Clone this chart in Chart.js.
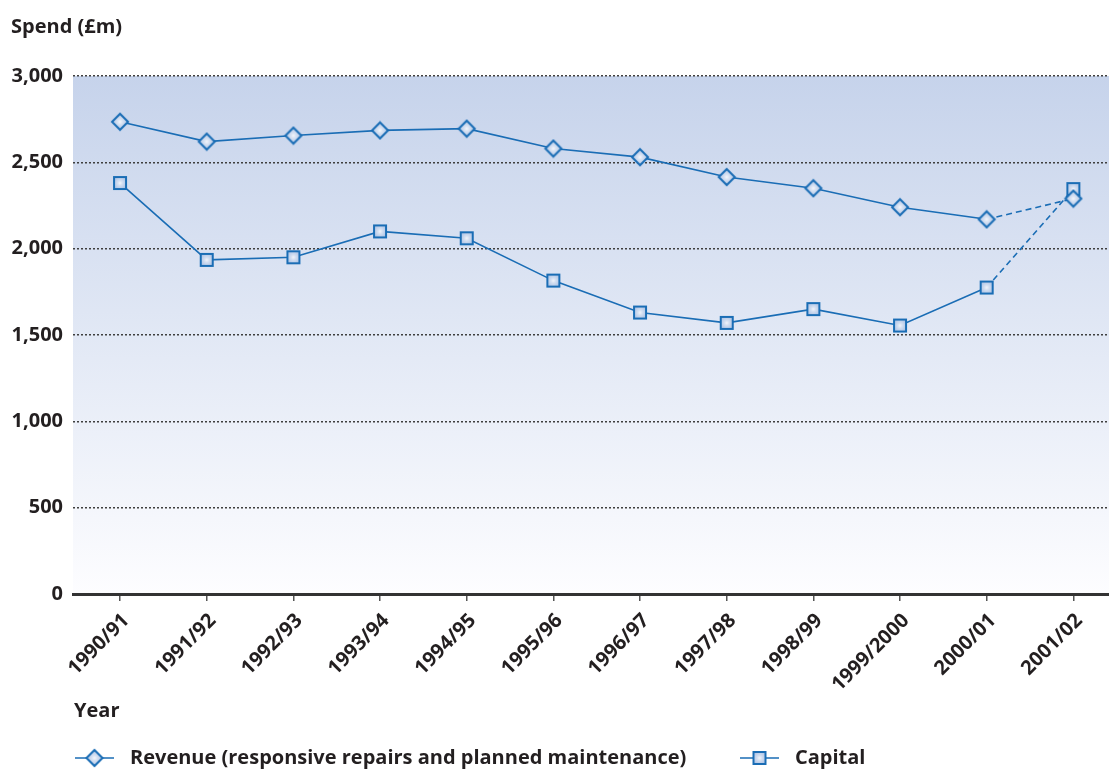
<!DOCTYPE html>
<html>
<head>
<meta charset="utf-8">
<script src="https://cdn.jsdelivr.net/npm/chart.js@4/dist/chart.umd.min.js"></script>
<style>
  html, body { margin: 0; padding: 0; background: #fff; overflow: hidden; }
  #wrap { width: 1109px; height: 769px; overflow: hidden; }
</style>
</head>
<body>
<div id="wrap"><canvas id="spendChart" width="1115" height="769"></canvas></div>
<script>
const years = ["1990/91", "1991/92", "1992/93", "1993/94", "1994/95", "1995/96",
  "1996/97", "1997/98", "1998/99", "1999/2000", "2000/01", "2001/02"];
const revenue = [2735, 2620, 2655, 2685, 2695, 2580, 2530, 2415, 2350, 2240, 2170, 2290];
const capital = [2380, 1935, 1950, 2100, 2060, 1815, 1630, 1570, 1650, 1555, 1775, 2345];
const yTicks = [0, 500, 1000, 1500, 2000, 2500, 3000];

const BLUE = "#1a6db5";
const FONT = "'Open Sans', 'DejaVu Sans', sans-serif";
const TEXT = "#231f20";

// marker images: light shaded fill with a darker blue outline
function makeMarker(shape) {
  const c = document.createElement("canvas");
  const s = shape === "diamond" ? 20 : 16;
  c.width = s; c.height = s;
  const g = c.getContext("2d");
  const m = s / 2;
  const grad = g.createRadialGradient(m, m, 0, m, m, m * 0.9);
  grad.addColorStop(0, "#f4f7fc");
  grad.addColorStop(0.3, "#d6e1f2");
  grad.addColorStop(1, "#a9c0e4");
  g.beginPath();
  if (shape === "diamond") {
    const r = 8;
    g.moveTo(m, m - r); g.lineTo(m + r, m); g.lineTo(m, m + r); g.lineTo(m - r, m);
    g.closePath();
  } else {
    const h = 6;
    g.rect(m - h, m - h, 2 * h, 2 * h);
  }
  g.fillStyle = grad;
  g.fill();
  g.lineWidth = 2;
  g.strokeStyle = BLUE;
  g.stroke();
  return c;
}
const diamond = makeMarker("diamond");
const square = makeMarker("square");

// last segment (into 2001/02) is dashed
const dashLast = { borderDash: ctx => ctx.p1DataIndex === years.length - 1 ? [6, 4] : undefined };

const plotBackground = {
  id: "plotBackground",
  beforeDraw(chart) {
    const { ctx, chartArea: a } = chart;
    const grad = ctx.createLinearGradient(0, a.top, 0, a.bottom);
    grad.addColorStop(0, "#c6d3eb");
    grad.addColorStop(1, "#fdfdff");
    ctx.save();
    ctx.fillStyle = grad;
    ctx.fillRect(a.left, a.top, a.right - a.left, a.bottom - a.top);
    ctx.restore();
  }
};

const labelsAndLegend = {
  id: "labelsAndLegend",
  afterDraw(chart) {
    const ctx = chart.ctx;
    ctx.save();
    ctx.fillStyle = TEXT;
    ctx.font = "bold 20px " + FONT;
    ctx.textBaseline = "middle";
    ctx.textAlign = "left";
    ctx.fillText("Spend (£m)", 11, 27);
    ctx.fillText("Year", 74, 711);

    const items = [
      { label: chart.data.datasets[0].label, img: diamond, x: 75 },
      { label: chart.data.datasets[1].label, img: square, x: 740 }
    ];
    const y = 758;
    items.forEach(it => {
      ctx.strokeStyle = BLUE;
      ctx.lineWidth = 1.5;
      ctx.beginPath();
      ctx.moveTo(it.x, y);
      ctx.lineTo(it.x + 39, y);
      ctx.stroke();
      ctx.drawImage(it.img, it.x + 19.5 - it.img.width / 2, y - it.img.height / 2);
      ctx.fillText(it.label, it.x + 55, y);
    });
    ctx.restore();
  }
};

new Chart(document.getElementById("spendChart"), {
  type: "line",
  data: {
    datasets: [
      {
        label: "Revenue (responsive repairs and planned maintenance)",
        data: revenue.map((v, i) => ({ x: i, y: v })),
        borderColor: BLUE,
        borderWidth: 1.6,
        pointStyle: diamond,
        segment: dashLast
      },
      {
        label: "Capital",
        data: capital.map((v, i) => ({ x: i, y: v })),
        borderColor: BLUE,
        borderWidth: 1.6,
        pointStyle: square,
        segment: dashLast
      }
    ]
  },
  options: {
    responsive: false,
    animation: false,
    events: [],
    layout: { padding: { top: 76, left: 0, right: 0, bottom: 0 } },
    plugins: { legend: { display: false }, tooltip: { enabled: false } },
    scales: {
      x: {
        type: "linear",
        min: -0.543,
        max: 11.416,
        afterFit: s => { s.height = 175; },
        afterBuildTicks: s => { s.ticks = years.map((_, i) => ({ value: i })); },
        border: { display: true, color: "#333333", width: 3 },
        grid: { drawOnChartArea: false, drawTicks: true, tickLength: 7, color: "#555555", lineWidth: 1.5 },
        ticks: {
          autoSkip: false,
          minRotation: 45,
          maxRotation: 45,
          padding: 8,
          labelOffset: 6,
          color: TEXT,
          font: { family: FONT, size: 20, weight: "bold" },
          callback: v => years[v]
        }
      },
      y: {
        min: 0,
        max: 3000,
        afterFit: s => { s.width = 73; },
        afterBuildTicks: s => { s.ticks = yTicks.map(v => ({ value: v })); },
        border: { display: false, dash: [2, 2] },
        grid: {
          drawTicks: false,
          color: c => c.tick.value === 0 ? "rgba(0,0,0,0)" : "#3f3f3f",
          lineWidth: 1.5
        },
        ticks: {
          padding: 10,
          color: TEXT,
          font: { family: FONT, size: 20, weight: "bold" },
          callback: v => v.toLocaleString("en-GB")
        }
      }
    }
  },
  plugins: [plotBackground, labelsAndLegend]
});
</script>
</body>
</html>
